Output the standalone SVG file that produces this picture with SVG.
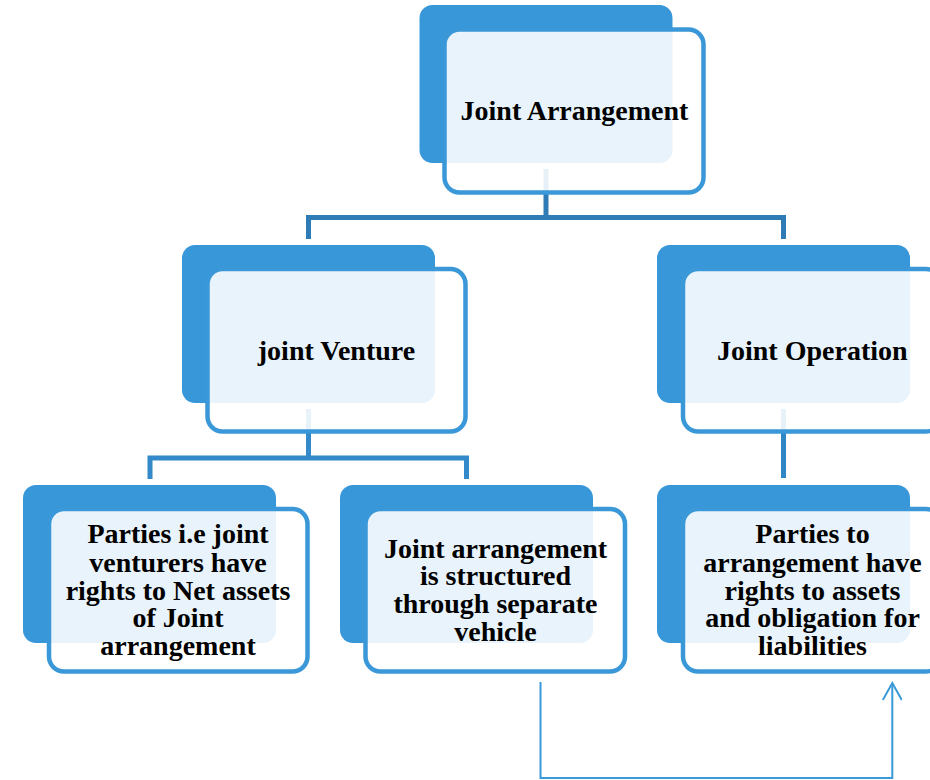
<svg xmlns="http://www.w3.org/2000/svg" width="930" height="780" viewBox="0 0 930 780">
<style>
.back{fill:#3897d9;}
.front{fill:#ffffff;fill-opacity:0.885;stroke:#3a98d8;stroke-width:4.5;}
.lbl{font-family:"Liberation Serif","Times New Roman",serif;font-weight:bold;font-size:28px;fill:#000;text-anchor:middle;}
.c1{stroke:#2e7bb5;stroke-width:5;fill:none;}
.c2{stroke:#3389c9;stroke-width:5;fill:none;}
.c3{stroke:#2f86c4;stroke-width:5;fill:none;}
.arr{stroke:#3a9ad9;stroke-width:2;fill:none;}
</style>
<defs>
<marker id="ah" viewBox="-10 0 22 20" refX="10" refY="10" markerWidth="22" markerHeight="20" markerUnits="userSpaceOnUse" orient="auto">
<path d="M-7,0.5 L10,10 L-7,19.5" fill="none" stroke="#3a9ad9" stroke-width="2"/>
</marker>
</defs>
<g id="connectors">
<path class="c1" d="M546,169 V217.5 M308.5,239 V217.5 H783.5 V239"/>
<path class="c2" d="M308.5,409 V458 M150,479 V458 H466.5 V479"/>
<path class="c3" d="M783.5,409 V478"/>
<path class="arr" d="M540.5,682 V778 H892.3 V683" marker-end="url(#ah)"/>
</g>
<g id="node-joint-arrangement">
<rect class="back" x="419.5" y="5" width="253" height="158" rx="13"/>
<rect class="front" x="444.5" y="29.5" width="259" height="163" rx="15"/>
<text class="lbl" x="574.5" y="120">Joint Arrangement</text>
</g>
<g id="node-joint-venture">
<rect class="back" x="182" y="245" width="253" height="158" rx="13"/>
<rect class="front" x="207.5" y="269" width="258" height="162.5" rx="15"/>
<text class="lbl" x="336.5" y="359.5">joint Venture</text>
</g>
<g id="node-joint-operation">
<rect class="back" x="657" y="245" width="253" height="158" rx="13"/>
<rect class="front" x="683" y="269" width="258" height="162.5" rx="15"/>
<text class="lbl" x="812.3" y="359.5">Joint Operation</text>
</g>
<g id="node-jv-rights">
<rect class="back" x="23" y="485" width="253" height="158" rx="13"/>
<rect class="front" x="49" y="509" width="258.5" height="162.5" rx="15"/>
<text class="lbl" x="178" y="543">Parties i.e joint</text>
<text class="lbl" x="178" y="571.5">venturers have</text>
<text class="lbl" x="178" y="600">rights to Net assets</text>
<text class="lbl" x="178" y="627">of Joint</text>
<text class="lbl" x="178" y="655">arrangement</text>
</g>
<g id="node-jv-structure">
<rect class="back" x="340" y="485" width="253" height="158" rx="13"/>
<rect class="front" x="365.5" y="509" width="259.5" height="162.5" rx="15"/>
<text class="lbl" x="495.5" y="557.5">Joint arrangement</text>
<text class="lbl" x="495.5" y="585">is structured</text>
<text class="lbl" x="495.5" y="613">through separate</text>
<text class="lbl" x="495.5" y="640.5">vehicle</text>
</g>
<g id="node-jo-rights">
<rect class="back" x="657" y="485" width="253" height="158" rx="13"/>
<rect class="front" x="683" y="509" width="258" height="162.5" rx="15"/>
<text class="lbl" x="812.5" y="543">Parties to</text>
<text class="lbl" x="812.5" y="571.5">arrangement have</text>
<text class="lbl" x="812.5" y="599.5">rights to assets</text>
<text class="lbl" x="812.5" y="627">and obligation for</text>
<text class="lbl" x="812.5" y="655">liabilities</text>
</g>
</svg>
